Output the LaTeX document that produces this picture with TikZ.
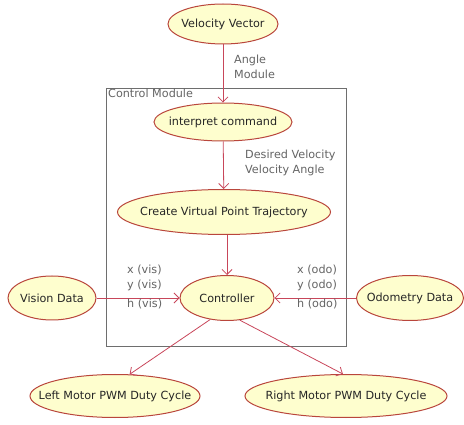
\documentclass[tikz,border=0pt]{standalone}
\usepackage{fontspec}
\setmainfont{DejaVu Sans}
\usetikzlibrary{shapes.geometric,arrows.meta}
\definecolor{ufill}{HTML}{FEFECE}
\definecolor{uborder}{RGB}{185,70,60}
\definecolor{uarrow}{RGB}{200,70,90}
\definecolor{ulabel}{RGB}{100,100,100}
\definecolor{ubox}{RGB}{110,110,110}
\newcommand\uctext[1]{\makebox[0pt]{#1}}
\tikzset{
  uc/.style={ellipse, draw=uborder, fill=ufill, line width=1pt, inner sep=0pt,
    text=black!85, font=\fontsize{11.2}{13}\selectfont},
  arr/.style={draw=uarrow, line width=0.8pt, -{Straight Barb[length=5pt,width=10pt]}},
  lbl/.style={text=ulabel, font=\fontsize{11.2}{15}\selectfont, align=left, inner sep=0pt}
}
\begin{document}
\begin{tikzpicture}[x=1pt,y=-1pt]
\useasboundingbox (0,0) rectangle (464,425);
% control module box
\draw[ubox, line width=0.8pt] (106,88) rectangle (346,346);
\node[lbl, anchor=north west] (cmlbl) at (108,89) {Control Module};
% nodes
\node[uc, minimum width=110, minimum height=40] (vv) at (223,24) {\uctext{Velocity Vector}};
\node[uc, minimum width=138, minimum height=38] (ic) at (223,122) {\uctext{interpret command}};
\node[uc, minimum width=213, minimum height=45] (cv) at (224,212) {\uctext{Create Virtual Point Trajectory}};
\node[uc, minimum width=94, minimum height=45] (ctl) at (227,298) {\uctext{Controller}};
\node[uc, minimum width=88, minimum height=44] (vis) at (52,298) {\uctext{Vision Data}};
\node[uc, minimum width=107, minimum height=45] (odo) at (410,298) {\uctext{Odometry Data}};
\node[uc, minimum width=170, minimum height=43] (lm) at (115,396) {\uctext{Left Motor PWM Duty Cycle}};
\node[uc, minimum width=202, minimum height=43] (rm) at (346,396) {\uctext{Right Motor PWM Duty Cycle}};
% connectors
\draw[arr] (vv) -- (ic);
\draw[arr] (ic) -- (cv);
\draw[arr] (cv.south -| ctl) -- (ctl.north);
\draw[arr] (vis) -- (ctl);
\draw[arr] (odo) -- (ctl);
\draw[arr] (ctl.232) -- (lm.56);
\draw[arr] (ctl.300) -- (rm.98);
% labels
\node[lbl, anchor=north west] (l1) at (234,55) {Angle\\Module};
\node[lbl, anchor=north west] (l2) at (245,150) {Desired Velocity\\Velocity Angle};
\node[lbl, anchor=north west] (l3) at (127,265) {x (vis)\\y (vis)\\[4pt]h (vis)};
\node[lbl, anchor=north west] (l4) at (297,265) {x (odo)\\y (odo)\\[4pt]h (odo)};
\end{tikzpicture}
\end{document}
